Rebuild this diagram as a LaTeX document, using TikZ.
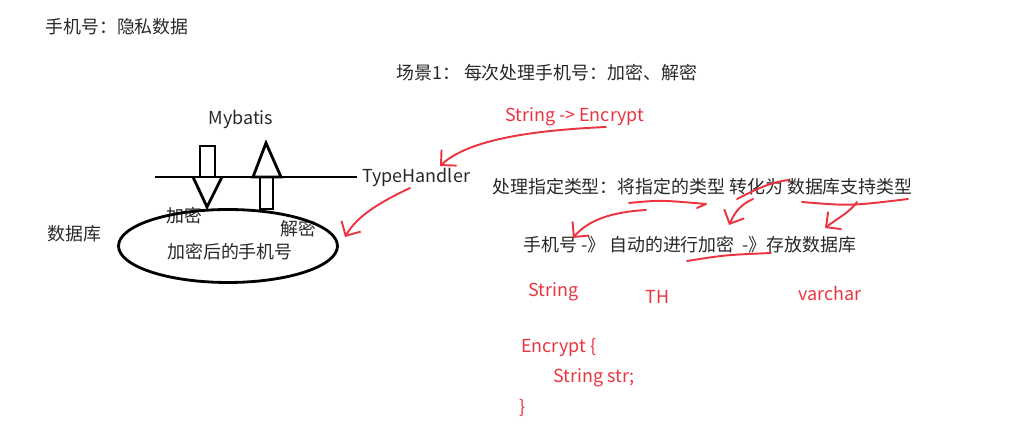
\documentclass[tikz,border=0pt]{standalone}
\usepackage{fontspec}
\setmainfont{Noto Sans CJK SC}
\usepackage{tikz}
\usetikzlibrary{arrows.meta,positioning,shapes.geometric}
\definecolor{ink}{RGB}{40,40,40}
\definecolor{pen}{RGB}{236,52,64}
\tikzset{
  note/.style={font=\fontsize{10.2}{12}\selectfont, inner sep=0pt, text=ink},
  rednote/.style={note, text=pen},
  blackline/.style={line width=1.6pt, black},
  blockarrow/.style={line width=1.6pt, black, line join=miter},
  redline/.style={line width=1.1pt, pen, line cap=round, line join=round},
  redarrow/.style={redline, -{Straight Barb[length=2.2mm,width=4.4mm]}}
}

\begin{document}
\begin{tikzpicture}[x=0.02cm,y=-0.02cm]
\useasboundingbox (0,0) rectangle (1035,435);

% titles
\node[note, anchor=west] (title) at (45,27) {手机号：隐私数据};
\node[note, anchor=west] (scene) at (396,73) {场景1： 每次处理手机号：加密、解密};

% mybatis / typehandler layer
\node[note] (mybatis) at (241,119) {Mybatis};
\node[note, anchor=west] (th) at (362,177) {TypeHandler};
\coordinate (lineL) at (155,177);
\draw[blackline] (lineL) -- ([xshift=-0.1cm]th.west);

% down arrow (encrypt) and up arrow (decrypt)
\draw[blockarrow] (200,177) -- (200,146) -- (215,146) -- (215,177);
\draw[blockarrow] (193,177) -- (207,207) -- (222,177);
\draw[blockarrow] (260,177) -- (260,209) -- (273,209) -- (273,177);
\draw[blockarrow] (253,177) -- (266,143) -- (281,177) -- cycle;

% database
\node[note] (jiami) at (184,216) {加密};
\node[note] (jiemi) at (298,229) {解密};
\node[draw, ellipse, line width=1.6pt, minimum width=4.38cm, minimum height=1.46cm] (db) at (228,246) {};
\node[note] (dbtext) at (230,252) {加密后的手机号};
\node[note, anchor=west] (dblabel) at (47,234) {数据库};

% notes on the right
\node[rednote, anchor=west] (conv) at (505,117) {String -> Encrypt};
\node[note, anchor=west] (rule) at (492,187) {处理指定类型：将指定的类型 转化为 数据库支持类型};
\node[note, anchor=west] (flow) at (523,245) {手机号 -》 自动的进行加密\ \ -》存放数据库};

\node[rednote, anchor=west] (tstr) at (528,292) {String};
\node[rednote, anchor=west] (tth) at (645,297) {TH};
\node[rednote, anchor=west] (tvc) at (798,293) {varchar};

\node[rednote, anchor=west] (code1) at (521,348) {Encrypt \{};
\node[rednote, anchor=west] (code2) at (553,378) {String str;};
\node[rednote, anchor=west] (code3) at (519,408) {\}};

% red pen marks
\coordinate (a0) at (606,127);
\coordinate (a1) at (440,166);
\draw[redarrow] (a0) .. controls (540,130) and (470,138) .. (a1);

\coordinate (b0) at (410,188);
\coordinate (b1) at (345,237);
\draw[redarrow] (b0) .. controls (385,200) and (358,214) .. (b1);

\draw[redline] (629,203) .. controls (660,200) .. (706,204) -- (697,208);
\coordinate (c0) at (646,210);
\coordinate (c1) at (573,238);
\draw[redarrow] (c0) .. controls (612,212) and (588,220) .. (c1);

\draw[redline] (737,199) .. controls (755,190) and (770,182) .. (789,180);
\coordinate (d0) at (753,199);
\coordinate (d1) at (729,225);
\draw[redarrow] (d0) .. controls (740,205) and (735,212) .. (d1);

\draw[redline] (802,202) .. controls (850,206) .. (908,199);
\coordinate (e0) at (857,202);
\coordinate (e1) at (825,228);
\draw[redarrow] (e0) .. controls (850,212) and (838,218) .. (e1);

\draw[redline] (687,261) .. controls (725,255) .. (771,253);
\end{tikzpicture}
\end{document}
